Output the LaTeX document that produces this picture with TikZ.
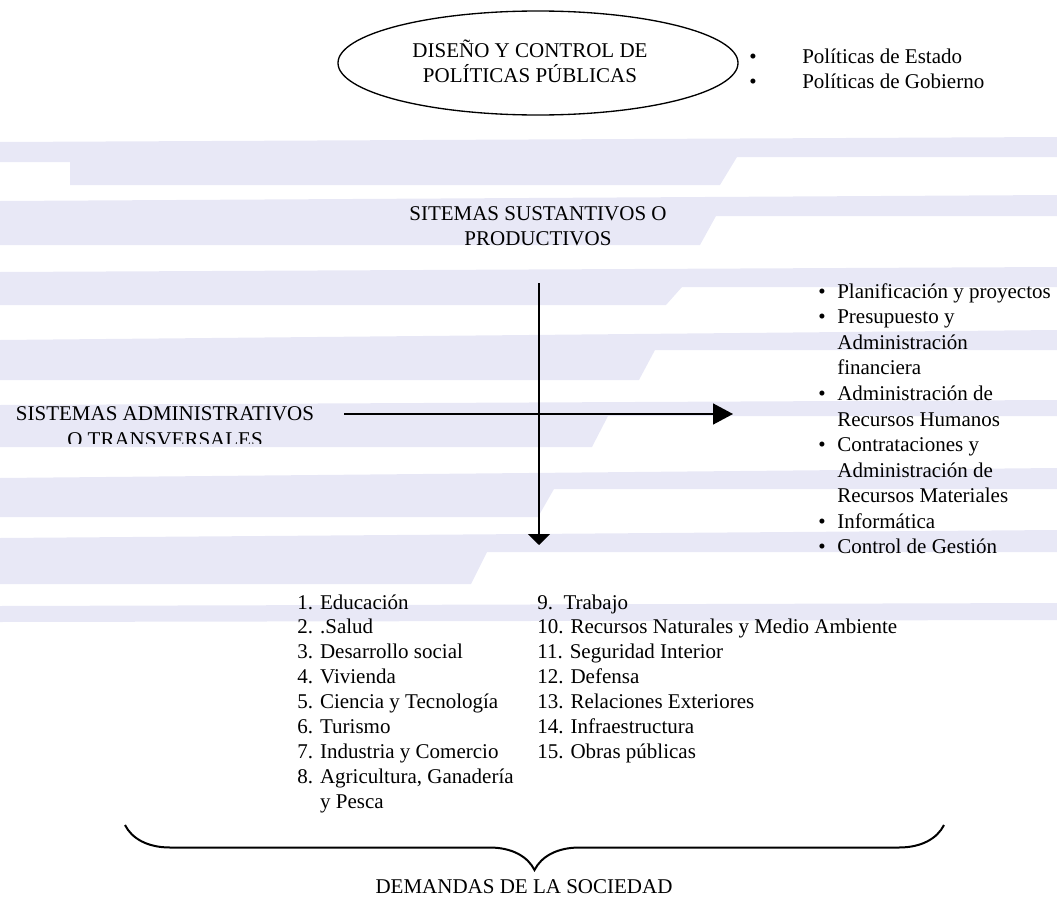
\documentclass[tikz,border=0pt]{standalone}
\usepackage{fontspec}
\setmainfont{Liberation Serif}
\usetikzlibrary{arrows.meta,decorations.pathreplacing}
\definecolor{franja}{RGB}{232,232,246}
\newcommand{\letra}[1]{\fontsize{12.6}{#1}\selectfont}

\begin{document}
\begin{tikzpicture}[x=0.6pt,y=-0.6pt,
    texto/.style={inner sep=0pt,font=\letra{15}},
    flecha/.style={line width=0.9pt}]
    \useasboundingbox (0,0) rectangle (1057,899);
    \fill[franja] (0,142) -- (1057,137) -- (1057,157) -- (737,157) -- (720,185) -- (70,185) -- (70,162) -- (0,162) -- cycle;
    \foreach \tl/\tr/\bl/\br/\xs in {201/195/245/216/708, 272/267/305/287/674, 340/330/380/350/647,
        405/400/447/416/600, 478/468/517/489/546, 538/530/584/552/479}
        \fill[franja] (0,\tl) -- (1057,\tr) -- (1057,\br) -- (\xs+8,\br) -- (\xs-8,\bl) -- (0,\bl) -- cycle;
    \fill[franja] (0,606) -- (1057,603) -- (1057,620) -- (0,622) -- cycle;

    \draw[line width=0.8pt] (538,63) ellipse [x radius=200, y radius=52];
    \node[texto,font=\letra{14.4},anchor=base] (diseno) at (530,57)
        {\begin{tabular}[t]{@{}c@{}}DISEÑO Y CONTROL DE\\POLÍTICAS PÚBLICAS\end{tabular}};
    \node[texto,anchor=base west] (politicas) at (749,64)
        {\begin{tabular}[t]{@{}p{31.8pt}@{}l@{}}\textbullet & Políticas de Estado\\
        \textbullet & Políticas de Gobierno\end{tabular}};

    \node[texto,anchor=base] (sustantivos) at (538,220)
        {\begin{tabular}[t]{@{}c@{}}SITEMAS SUSTANTIVOS O\\PRODUCTIVOS\end{tabular}};
    \begin{scope}
        \clip (0,0) rectangle (340,443);
        \node[texto,font=\letra{15.6},anchor=base] (administrativos) at (165,420)
            {\begin{tabular}[t]{@{}c@{}}SISTEMAS ADMINISTRATIVOS\\O TRANSVERSALES\end{tabular}};
    \end{scope}

    \coordinate (vini) at (539,283);
    \coordinate (vfin) at (539,545);
    \coordinate (hini) at (344,414);
    \coordinate (hfin) at (733,414);
    \draw[flecha,-{Triangle[length=6.6pt,width=13.2pt]}] (vini) -- (vfin);
    \draw[flecha,-{Triangle[length=12pt,width=12.6pt]}] (hini) -- (hfin);

    \node[texto,font=\letra{15.36},anchor=base west] (transversales) at (818,298)
        {\begin{tabular}[t]{@{}p{11.4pt}@{}l@{}}
        \textbullet & Planificación y proyectos\\
        \textbullet & Presupuesto y\\
                    & Administración\\
                    & financiera\\
        \textbullet & Administración de\\
                    & Recursos Humanos\\
        \textbullet & Contrataciones y\\
                    & Administración de\\
                    & Recursos Materiales\\
        \textbullet & Informática\\
        \textbullet & Control de Gestión
        \end{tabular}};

    \node[texto,font=\letra{14.94},anchor=base west] (sectoresa) at (297,609)
        {\begin{tabular}[t]{@{}l@{}}
        1. Educación\\
        2. .Salud\\
        3. Desarrollo social\\
        4. Vivienda\\
        5. Ciencia y Tecnología\\
        6. Turismo\\
        7. Industria y Comercio\\
        8. Agricultura, Ganadería\\
        \hphantom{8. }y Pesca
        \end{tabular}};
    \node[texto,font=\letra{14.94},anchor=base west] (sectoresb) at (537,609)
        {\begin{tabular}[t]{@{}l@{}}
        9.\ \ Trabajo\\
        10. Recursos Naturales y Medio Ambiente\\
        11. Seguridad Interior\\
        12. Defensa\\
        13. Relaciones Exteriores\\
        14. Infraestructura\\
        15. Obras públicas
        \end{tabular}};

    \coordinate (llaveizq) at (125,825);
    \coordinate (llaveder) at (944,825);
    \draw[line width=1.2pt,decorate,decoration={brace,mirror,amplitude=27pt}] (llaveizq) -- (llaveder);
    \node[texto,anchor=base] (demandas) at (524,893) {DEMANDAS DE LA SOCIEDAD};
\end{tikzpicture}
\end{document}
